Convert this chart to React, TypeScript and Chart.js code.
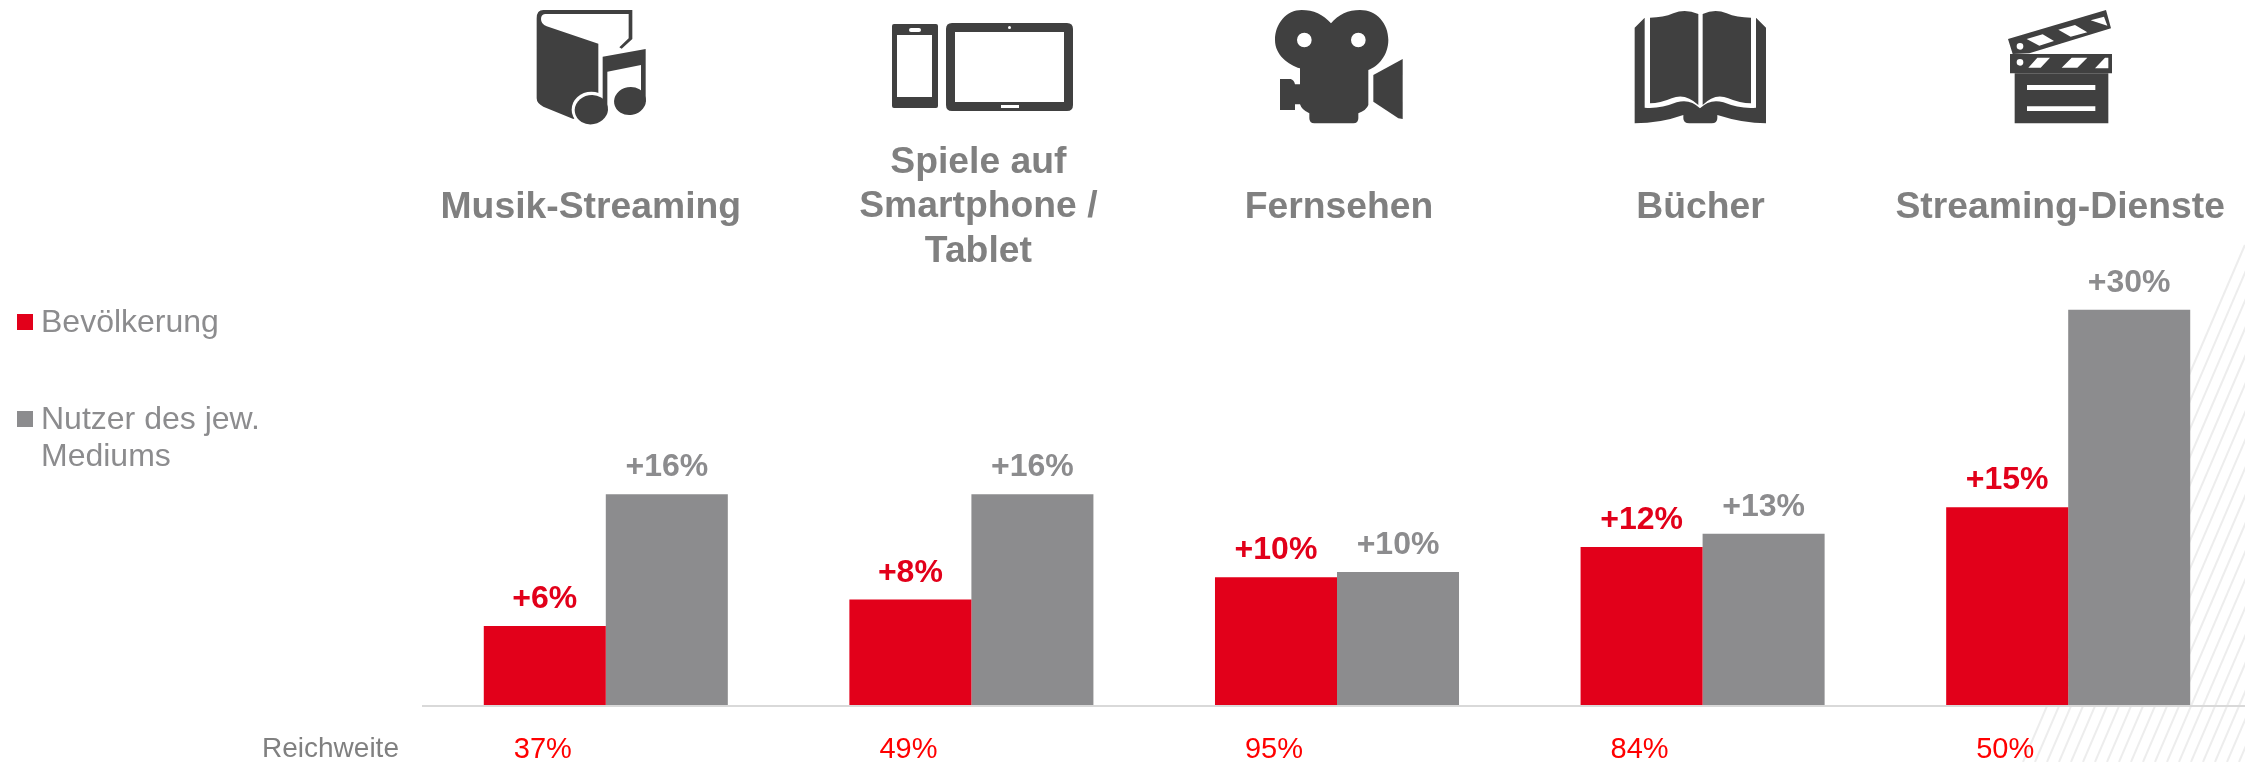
import React, { useEffect, useRef } from "react";
import { Chart, registerables } from "chart.js";

Chart.register(...registerables);

const categories = ["Musik-Streaming", "Spiele auf Smartphone / Tablet", "Fernsehen", "Bücher", "Streaming-Dienste"];
const categoryLines = [["Musik-Streaming"], ["Spiele auf", "Smartphone /", "Tablet"], ["Fernsehen"], ["Bücher"], ["Streaming-Dienste"]];
const bevoelkerung = [6, 8, 9.7, 12, 15];
const nutzer = [16, 16, 10.1, 13, 30];
const bevoelkerungLabels = ["+6%", "+8%", "+10%", "+12%", "+15%"];
const nutzerLabels = ["+16%", "+16%", "+10%", "+13%", "+30%"];
const reichweite = ["37%", "49%", "95%", "84%", "50%"];

const FONT = '"Liberation Sans", Arial, sans-serif';
const RED = "#E2001A";
const GRAY = "#8C8C8E";
const TEXT_GRAY = "#808080";
const TITLE_SHIFT = [-15, 7, 2, -2, -8];
const ICON = "#404040";

const decor = {
  id: "decor",
  beforeDraw(chart: any) {
    const { ctx } = chart;
    ctx.save();
    ctx.strokeStyle = "#EDEDED";
    ctx.lineWidth = 2;
    for (let x = 2023; x < 2300; x += 12) {
      ctx.beginPath();
      ctx.moveTo(x, 762);
      ctx.lineTo(x + 517 / 2.33, 245);
      ctx.stroke();
    }
    ctx.restore();
  },
  afterDraw(chart: any) {
    const { ctx } = chart;
    const xs = chart.scales.x;
    ctx.save();
    ctx.textBaseline = "alphabetic";
    // category headings
    ctx.font = `bold 37.3px ${FONT}`;
    ctx.fillStyle = TEXT_GRAY;
    ctx.textAlign = "center";
    categoryLines.forEach((lines, i) => {
      const cx = xs.getPixelForValue(i) + TITLE_SHIFT[i];
      const first = lines.length === 1 ? 218 : 173;
      lines.forEach((l, j) => ctx.fillText(l, cx, first + j * 44.4));
    });
    // value labels
    ctx.font = `bold 32px ${FONT}`;
    const sets = [
      { labels: bevoelkerungLabels, color: RED },
      { labels: nutzerLabels, color: GRAY },
    ];
    sets.forEach((s, d) => {
      ctx.fillStyle = s.color;
      chart.getDatasetMeta(d).data.forEach((bar: any, i: number) => {
        ctx.fillText(s.labels[i], bar.x, bar.y - 18);
      });
    });
    // row caption
    ctx.font = `28px ${FONT}`;
    ctx.fillStyle = TEXT_GRAY;
    ctx.textAlign = "left";
    ctx.fillText("Reichweite", 262, 757);
    // legend
    ctx.font = `32px ${FONT}`;
    ctx.fillStyle = RED;
    ctx.fillRect(17, 314, 16, 16);
    ctx.fillStyle = GRAY;
    ctx.fillRect(17, 411, 16, 16);
    ctx.fillStyle = "#8C8C8E";
    ctx.fillText("Bevölkerung", 41, 332);
    ctx.fillText("Nutzer des jew.", 41, 429);
    ctx.fillText("Mediums", 41, 466);
    ctx.restore();
  },
};

function Icon({ x, y, w, h, vb, children }: any) {
  return (
    <svg
      style={{ position: "absolute", left: x, top: y, width: w, height: h }}
      viewBox={vb}
      fill={ICON}
    >
      {children}
    </svg>
  );
}

export default function App() {
  const ref = useRef<HTMLCanvasElement>(null);
  useEffect(() => {
    const chart = new Chart(ref.current as HTMLCanvasElement, {
      type: "bar",
      data: {
        labels: categories,
        datasets: [
          { label: "Bevölkerung", data: bevoelkerung, backgroundColor: RED, borderWidth: 0 },
          { label: "Nutzer des jew. Mediums", data: nutzer, backgroundColor: GRAY, borderWidth: 0 },
        ],
      },
      options: {
        responsive: false,
        animation: false,
        devicePixelRatio: 1,
        layout: { padding: { left: 423, top: 178, right: 0, bottom: 0 } },
        datasets: { bar: { barPercentage: 1, categoryPercentage: 0.6675 } },
        plugins: { legend: { display: false }, tooltip: { enabled: false }, title: { display: false } },
        scales: {
          x: {
            grid: { display: false },
            border: { display: true, color: "#D9D9D9", width: 2 },
            afterFit: (s: any) => {
              s.height = 56;
            },
            ticks: {
              color: "#FF0000",
              font: { family: FONT, size: 29 },
              maxRotation: 0,
              autoSkip: false,
              padding: 19,
              labelOffset: -63,
              callback: (_v: any, i: number) => reichweite[i],
            },
          },
          y: { display: false, min: -0.076, max: 40 },
        },
      },
      plugins: [decor],
    } as any);
    return () => chart.destroy();
  }, []);

  return (
    <div style={{ position: "absolute", left: 0, top: 0, width: 2245, height: 762, overflow: "hidden", background: "#fff" }}>
      <canvas ref={ref} width={2251} height={762} style={{ display: "block" }} />
      <Icon x={530} y={5} w={125} h={125} vb="0 0 375 375">
        <path d="M40 15 L307 15 L307 102 L275 131 L268 127 L296 100 L296 27 L45 27 Q33 28 33 42 Q33 58 50 64 L205 116 L205 300 L130 342 L40 305 Q20 295 20 280 L20 40 Q20 15 40 15 Z" />
        <ellipse cx="184" cy="314" rx="59" ry="54" fill="#fff" />
        <path d="M218 155 L347 132 L347 290 L333 290 L333 180 L232 200 L232 315 L218 315 Z" />
        <ellipse cx="184" cy="314" rx="50" ry="44" transform="rotate(-10 184 314)" />
        <ellipse cx="300" cy="288" rx="48" ry="42" transform="rotate(-10 300 288)" />
      </Icon>
      <Icon x={880} y={10} w={200} h={110} vb="880 10 200 110">
        <path fillRule="evenodd" d="M894 24 L936 24 Q938 24 938 26 L938 106 Q938 108 936 108 L894 108 Q892 108 892 106 L892 26 Q892 24 894 24 Z M897 35 L897 97 L932 97 L932 35 Z M911 28 Q909 28 909 30 Q909 32 911 32 L919 32 Q921 32 921 30 Q921 28 919 28 Z" />
        <path fillRule="evenodd" d="M952 23 L1067 23 Q1073 23 1073 29 L1073 105 Q1073 111 1067 111 L952 111 Q946 111 946 105 L946 29 Q946 23 952 23 Z M955 32 L955 102 L1064 102 L1064 32 Z M1001 105 L1001 108 L1019 108 L1019 105 Z" />
        <circle cx="1009.5" cy="27.5" r="1.5" fill="#fff" />
      </Icon>
      <Icon x={1270} y={5} w={140} h={125} vb="0 0 420 375">
        <path fillRule="evenodd" d="M183 55 C205 28 235 15 270 15 C320 15 355 55 355 105 C355 150 325 185 295 195 L295 300 Q290 315 265 325 L265 340 Q265 355 250 355 L133 355 Q118 355 118 340 L118 325 Q95 315 90 298 L75 298 L75 315 L30 315 L30 222 L62 222 Q72 225 75 238 L90 238 L90 190 C55 180 15 150 15 105 C15 55 50 15 95 15 C130 15 160 28 183 55 Z M103 83 A22 22 0 1 0 103.01 127 A22 22 0 1 0 103 83 Z M265 83 A22 22 0 1 0 265.01 127 A22 22 0 1 0 265 83 Z" />
        <path d="M310 210 L398 162 L398 342 L385 340 L310 290 Z" />
      </Icon>
      <Icon x={1630} y={5} w={140} h={125} vb="0 0 420 375">
        <path d="M14 68 L44 38 L44 308 Q90 312 140 292 Q180 280 210 310 Q240 280 280 292 Q330 312 378 308 L378 38 L408 68 L408 355 Q340 355 262 330 L262 340 Q262 355 245 355 L178 355 Q160 355 160 340 L160 330 Q90 355 14 355 Z" />
        <path d="M60 38 Q100 38 130 25 Q165 10 205 27 L205 300 Q165 262 125 280 Q90 295 60 295 Z" />
        <path d="M218 27 Q255 10 290 25 Q320 38 363 38 L363 295 Q330 295 295 280 Q255 262 218 300 Z" />
      </Icon>
      <Icon x={2000} y={5} w={125} h={125} vb="0 0 375 375">
        <path fillRule="evenodd" d="M44 205 L325 205 L325 355 L44 355 Z M81 240 L81 255 L286 255 L286 240 Z M81 304 L81 318 L286 318 L286 304 Z" />
        <path fillRule="evenodd" d="M30 147 L336 147 L336 205 L30 205 Z M85 188 L122 188 L150 158 L112 158 Z M185 188 L232 188 L262 158 L215 158 Z M285 190 L325 190 L325 158 L315 158 Z M60 162 A10 10 0 1 0 60.01 182 A10 10 0 1 0 60 162 Z" />
        <path fillRule="evenodd" d="M24 102 L318 15 L333 70 L88 145 L38 147 Z M80 102 L118 122 L162 108 L128 88 Z M175 74 L212 95 L262 82 L225 60 Z M272 46 L322 62 L312 35 Z M60 114 A10 10 0 1 0 60.01 134 A10 10 0 1 0 60 114 Z" />
      </Icon>
    </div>
  );
}
